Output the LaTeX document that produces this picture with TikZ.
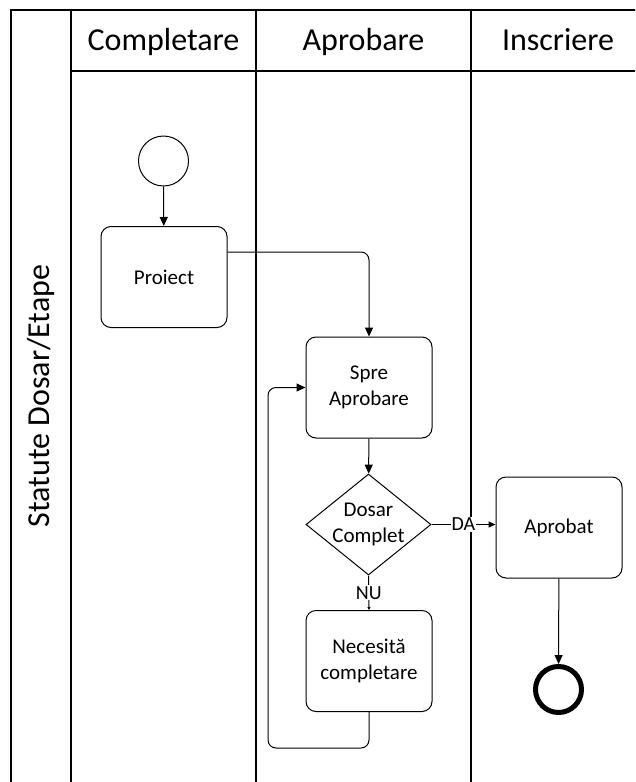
\documentclass[tikz,border=0pt]{standalone}
\usepackage{fontspec}
\setmainfont{Carlito}
\usetikzlibrary{shapes.geometric,arrows.meta}
\begin{document}
\begin{tikzpicture}[x=1pt,y=-1pt,
  lane/.style={line width=1.5pt},
  task/.style={draw, rounded corners=10pt, line width=1pt, minimum width=126pt,
    minimum height=101pt, align=center, inner sep=0pt,
    font=\fontsize{21}{26}\selectfont},
  gate/.style={draw, diamond, aspect=1.24, line width=1pt, minimum width=125pt,
    minimum height=101pt, inner sep=-3pt, align=center,
    font=\fontsize{21}{26}\selectfont},
  head/.style={anchor=base, font=\fontsize{32}{38}\selectfont},
  flow/.style={line width=1pt, -{Triangle[length=9pt,width=8pt]}},
  flowsmall/.style={line width=1pt, -{Triangle[length=7pt,width=6pt]}},
  flowtiny/.style={line width=1pt, -{Triangle[length=3pt,width=3pt]}},
  cond/.style={fill=white, inner sep=1pt, font=\fontsize{20}{24}\selectfont}]
\useasboundingbox (0,0) rectangle (635,782);
\clip (0,0) rectangle (635,782);

% pool frame and lanes
\draw[lane] (11,790) -- (11,10) -- (645,10);
\draw[lane] (71,10) -- (71,790);
\draw[lane] (256,10) -- (256,790);
\draw[lane] (471,10) -- (471,790);
\draw[lane] (71,71) -- (645,71);

% lane headers
\node[head] (hc) at (163.5,50) {Completare};
\node[head] (ha) at (363.5,50) {Aprobare};
\node[head] (hi) at (558,50) {Inscriere};
\node[rotate=90, font=\fontsize{32}{38}\selectfont] (pool) at (41,396) {Statute Dosar/Etape};

% events and tasks
\node[draw, circle, line width=1pt, minimum size=50pt, inner sep=0pt] (start) at (163.5,161) {};
\node[task] (proiect) at (164,277) {Proiect};
\node[task] (spre) at (369,387.5) {Spre\\Aprobare};
\node[gate] (dosar) at (368.5,524.5) {Dosar\\Complet};
\node[task] (nec) at (369,661) {Necesită\\completare};
\node[task] (aprob) at (559,527.5) {Aprobat};
\node[draw, circle, line width=5pt, minimum size=46pt, inner sep=0pt] (end) at (558.5,689.5) {};
\coordinate (loop) at (268,748);

% sequence flows
\draw[flow] (start) -- (proiect);
\draw[flow, rounded corners=8pt] ([yshift=25pt]proiect.east) -| (spre.north);
\draw[flow] (spre) -- (dosar);
\draw[flowsmall] (dosar.east) -- node[cond] {DA} (dosar.east -| aprob.west);
\draw[flowtiny] (dosar.south) -- node[cond] {NU} (nec.north);
\draw[flow, rounded corners=8pt] (nec.south) |- (loop) |- (spre.west);
\draw[flow] (aprob) -- (end);
\end{tikzpicture}
\end{document}
